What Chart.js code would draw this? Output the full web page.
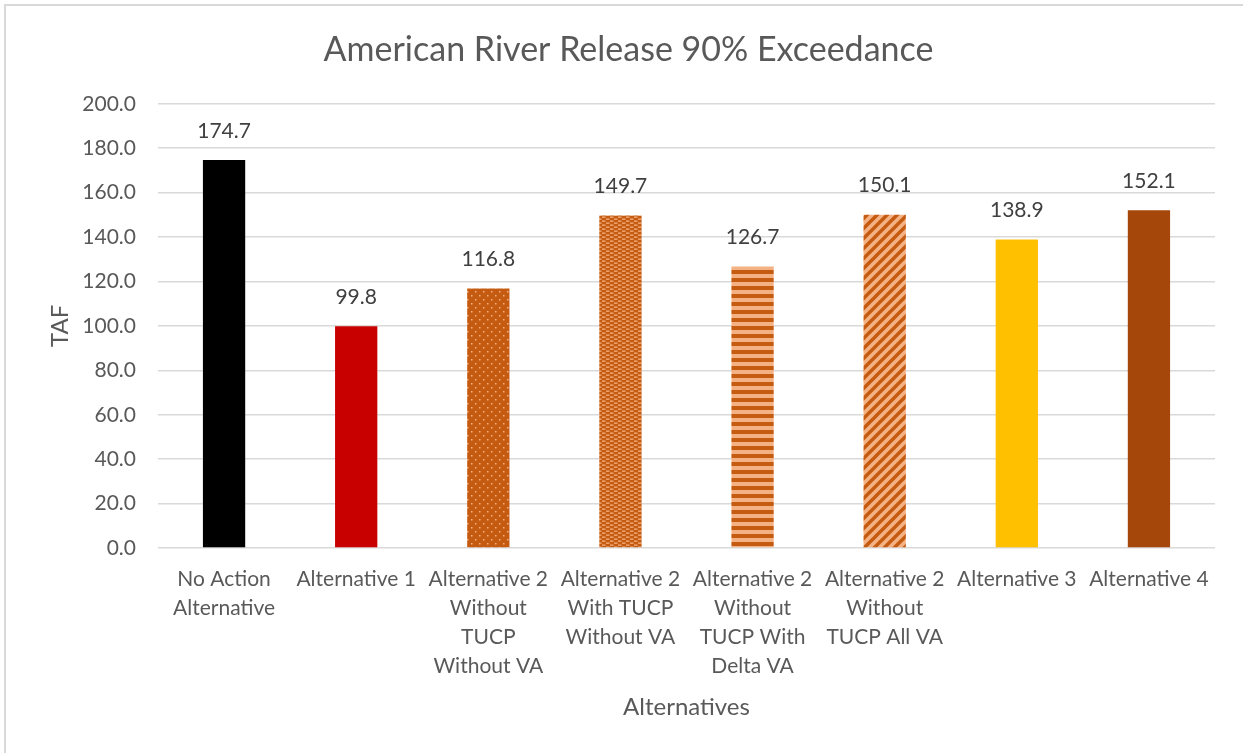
<!DOCTYPE html>
<html>
<head>
<meta charset="utf-8">
<script src="https://cdn.jsdelivr.net/npm/chart.js@4.4.0/dist/chart.umd.min.js"></script>
<style>
    html, body { margin: 0; padding: 0; background: #fff; }
    #wrap {
        position: absolute; left: 4px; top: 4px;
        width: 1239px; height: 749px;
        border-left: 2px solid #d9d9d9; border-top: 2px solid #d9d9d9;
        box-sizing: border-box;
    }
</style>
</head>
<body>
<div id="wrap"><canvas id="chart"></canvas></div>
<script>
// ==============================
// DATA
// ==============================

const categories = [
    ['No Action', 'Alternative'],
    'Alternative 1',
    ['Alternative 2', 'Without', 'TUCP', 'Without VA'],
    ['Alternative 2', 'With TUCP', 'Without VA'],
    ['Alternative 2', 'Without', 'TUCP With', 'Delta VA'],
    ['Alternative 2', 'Without', 'TUCP All VA'],
    'Alternative 3',
    'Alternative 4'
];
const releaseTAF = [174.7, 99.8, 116.8, 149.7, 126.7, 150.1, 138.9, 152.1];
const yTicks = [0, 20, 40, 60, 80, 100, 120, 140, 160, 180, 200];

const DARK = '#C55A11';
const LIGHT = '#F4B183';
const FONT = 'Lato, "Open Sans", sans-serif';

// ==============================
// PATTERNS
// ==============================

function makeTile(w, h, draw) {
    const c = document.createElement('canvas');
    c.width = w; c.height = h;
    const g = c.getContext('2d');
    draw(g);
    return g.createPattern(c, 'repeat');
}

const ctx = document.getElementById('chart').getContext('2d');

// sparse dots
const dotPattern = makeTile(8, 8, g => {
    g.fillStyle = DARK; g.fillRect(0, 0, 8, 8);
    g.fillStyle = LIGHT;
    g.fillRect(1, 1, 1.5, 1.5);
    g.fillRect(5, 5, 1.5, 1.5);
});

// small dashes
const dashPattern = makeTile(8, 4, g => {
    g.fillStyle = DARK; g.fillRect(0, 0, 8, 4);
    g.fillStyle = LIGHT;
    g.fillRect(0, 0.5, 3.5, 1.3);
    g.fillRect(4, 2.5, 3.5, 1.3);
});

// horizontal stripes
const stripePattern = makeTile(8, 8, g => {
    g.fillStyle = LIGHT; g.fillRect(0, 0, 8, 8);
    g.fillStyle = DARK; g.fillRect(0, 0, 8, 4);
});

// wide upward diagonal
const diagPattern = makeTile(10, 10, g => {
    g.fillStyle = LIGHT; g.fillRect(0, 0, 10, 10);
    g.strokeStyle = DARK; g.lineWidth = 3.4;
    g.beginPath();
    g.moveTo(-2, 12); g.lineTo(12, -2);
    g.moveTo(-7, 7); g.lineTo(7, -7);
    g.moveTo(3, 17); g.lineTo(17, 3);
    g.stroke();
});

const barColors = ['#000000', '#C80000', dotPattern, dashPattern, stripePattern, diagPattern, '#FFC000', '#A5460A'];

// ==============================
// VALUE LABELS
// ==============================

const valueLabels = {
    id: 'valueLabels',
    afterDatasetsDraw(chart) {
        const g = chart.ctx;
        const meta = chart.getDatasetMeta(0);
        g.save();
        g.font = '21px ' + FONT;
        g.fillStyle = '#404040';
        g.textAlign = 'center';
        g.textBaseline = 'middle';
        meta.data.forEach((bar, i) => {
            g.fillText(releaseTAF[i].toFixed(1), bar.x, bar.y - 29);
        });
        g.restore();
    }
};

// ==============================
// CHART
// ==============================

new Chart(ctx, {
    type: 'bar',
    data: {
        labels: categories,
        datasets: [{
            data: releaseTAF,
            backgroundColor: barColors,
            borderWidth: 0,
            barPercentage: 0.32,
            categoryPercentage: 1
        }]
    },
    options: {
        responsive: true,
        maintainAspectRatio: false,
        animation: false,
        layout: { padding: { left: 36, right: 28, top: 0, bottom: 27 } },
        plugins: {
            legend: { display: false },
            tooltip: { enabled: false },
            title: {
                display: true,
                text: 'American River Release 90% Exceedance',
                color: '#595959',
                font: { family: FONT, size: 34, weight: 'normal' },
                padding: { top: 24, bottom: 33 }
            }
        },
        scales: {
            x: {
                grid: { display: false, drawTicks: false },
                border: { display: false },
                ticks: {
                    color: '#595959',
                    font: { family: FONT, size: 21, lineHeight: 1.38 },
                    maxRotation: 0, autoSkip: false, padding: 17
                },
                title: {
                    display: true, text: 'Alternatives', color: '#595959',
                    font: { family: FONT, size: 24 }, padding: { top: 10, bottom: 4 }
                },
                afterFit: s => { s.height = 178; }
            },
            y: {
                min: 0, max: 200,
                afterBuildTicks: s => { s.ticks = yTicks.map(v => ({ value: v })); },
                grid: { color: '#D9D9D9', lineWidth: 1.5, drawTicks: false },
                border: { display: false },
                ticks: {
                    color: '#595959',
                    font: { family: FONT, size: 21 },
                    padding: 22,
                    callback: v => v.toFixed(1)
                },
                title: {
                    display: true, text: 'TAF', color: '#595959',
                    font: { family: FONT, size: 24 }, padding: { top: 4, bottom: 4 }
                },
                afterFit: s => { s.width = 116; }
            }
        }
    },
    plugins: [valueLabels]
});
</script>
</body>
</html>
